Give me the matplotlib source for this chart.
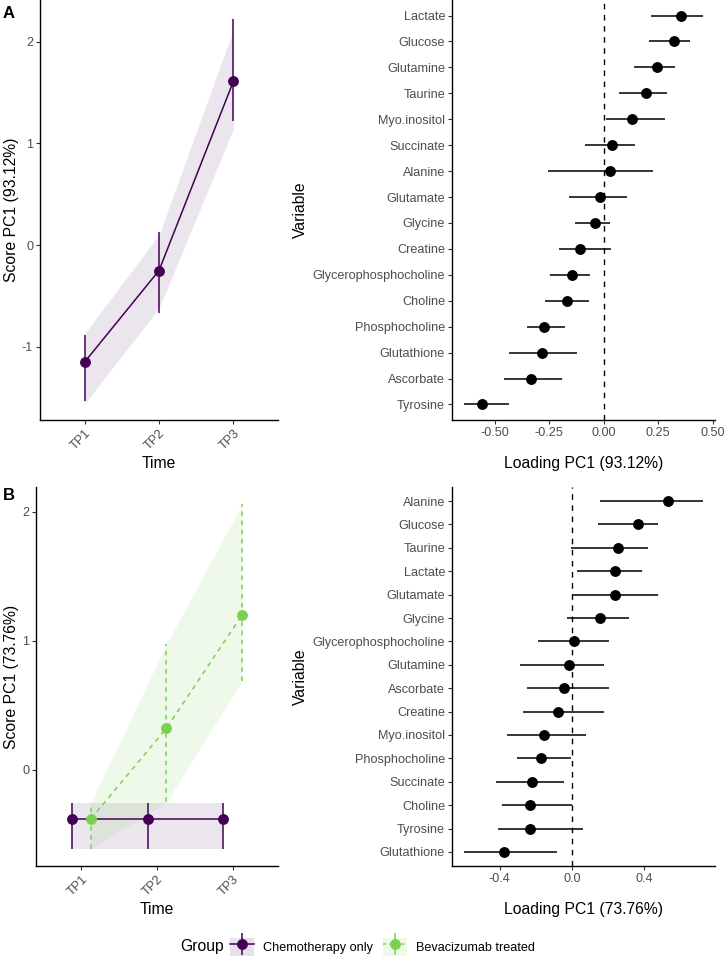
import matplotlib
matplotlib.use("Agg")
import matplotlib.pyplot as plt
from matplotlib.lines import Line2D
from matplotlib.patches import Patch
from matplotlib.legend_handler import HandlerTuple
import numpy as np

plt.rcParams['font.family'] = ['Liberation Sans', 'DejaVu Sans']
plt.rcParams['axes.unicode_minus'] = False

# ---------------- Data ----------------
timepoints = ["TP1", "TP2", "TP3"]

# Panel A scores (single group)
a_score = [-1.15, -0.25, 1.61]
a_err_lo = [-1.53, -0.67, 1.22]
a_err_hi = [-0.88, 0.13, 2.22]
a_rib_lo = [-1.56, -0.62, 1.14]
a_rib_hi = [-0.87, 0.10, 2.12]

# Panel A loadings
a_vars = ["Lactate", "Glucose", "Glutamine", "Taurine", "Myo.inositol", "Succinate",
          "Alanine", "Glutamate", "Glycine", "Creatine", "Glycerophosphocholine",
          "Choline", "Phosphocholine", "Glutathione", "Ascorbate", "Tyrosine"]
a_load = [0.356, 0.324, 0.245, 0.196, 0.131, 0.040, 0.031, -0.017, -0.040, -0.107,
          -0.148, -0.171, -0.274, -0.284, -0.332, -0.561]
a_load_lo = [0.219, 0.206, 0.138, 0.070, 0.012, -0.087, -0.254, -0.159, -0.134, -0.205,
             -0.248, -0.269, -0.353, -0.437, -0.459, -0.642]
a_load_hi = [0.456, 0.398, 0.329, 0.290, 0.283, 0.145, 0.228, 0.109, 0.029, 0.035,
             -0.064, -0.070, -0.179, -0.121, -0.194, -0.437]

# Panel B scores (two groups)
groups = ["Chemotherapy only", "Bevacizumab treated"]
b_chemo = [-0.379, -0.379, -0.379]
b_chemo_lo = [-0.611, -0.611, -0.611]
b_chemo_hi = [-0.255, -0.255, -0.255]
b_bev = [-0.379, 0.322, 1.199]
b_bev_lo = [-0.611, -0.250, 0.690]
b_bev_hi = [-0.255, 0.974, 2.057]

# Panel B loadings
b_vars = ["Alanine", "Glucose", "Taurine", "Lactate", "Glutamate", "Glycine",
          "Glycerophosphocholine", "Glutamine", "Ascorbate", "Creatine", "Myo.inositol",
          "Phosphocholine", "Succinate", "Choline", "Tyrosine", "Glutathione"]
b_load = [0.531, 0.367, 0.256, 0.240, 0.240, 0.155, 0.009, -0.017, -0.046, -0.079,
          -0.155, -0.173, -0.221, -0.232, -0.232, -0.375]
b_load_lo = [0.155, 0.142, -0.007, 0.029, 0.002, -0.028, -0.190, -0.288, -0.248, -0.269,
             -0.360, -0.304, -0.419, -0.387, -0.411, -0.598]
b_load_hi = [0.726, 0.478, 0.422, 0.389, 0.478, 0.317, 0.206, 0.179, 0.206, 0.179,
             0.076, -0.007, -0.042, 0.002, 0.062, -0.081]

# ---------------- Style ----------------
PURPLE = "#440154"
GREEN = "#7AD151"
TICK_COL = "#4D4D4D"
TICK_FS = 9.1
TITLE_FS = 11.3
W, H = 725, 958

fig = plt.figure(figsize=(W / 100, H / 100), dpi=100)


def ax_px(x0, y0, x1, y1):
    return fig.add_axes([x0 / W, 1 - y1 / H, (x1 - x0) / W, (y1 - y0) / H])


def classic(ax):
    for s in ["top", "right"]:
        ax.spines[s].set_visible(False)
    for s in ["left", "bottom"]:
        ax.spines[s].set_linewidth(1.0)
        ax.spines[s].set_color("black")
    ax.tick_params(length=3, width=0.8, color="#333333", labelcolor=TICK_COL,
                   labelsize=TICK_FS, pad=2)


def score_axes(ax, ylab):
    classic(ax)
    ax.set_xlim(0.4, 3.6)
    ax.set_xticks([1, 2, 3])
    ax.set_xticklabels(timepoints, rotation=45, ha="right", rotation_mode="anchor")
    ax.set_xlabel("Time", fontsize=TITLE_FS, labelpad=3)
    ax.set_ylabel(ylab, fontsize=TITLE_FS, labelpad=2)


def loading_axes(ax, names, vals, lo, hi, xlim, ticks, fmt, xlabel):
    classic(ax)
    n = len(names)
    ypos = np.arange(n, 0, -1)
    ax.axvline(0, color="black", linestyle=(0, (4, 4)), linewidth=1.0, zorder=1)
    ax.hlines(ypos, lo, hi, color="black", linewidth=1.1, zorder=2)
    ax.plot(vals, ypos, "o", color="black", markersize=6.8, zorder=3)
    ax.set_ylim(0.4, n + 0.6)
    ax.set_yticks(ypos)
    ax.set_yticklabels(names)
    ax.set_xlim(*xlim)
    ax.set_xticks(ticks)
    ax.set_xticklabels([fmt.format(t) for t in ticks])
    ax.set_xlabel(xlabel, fontsize=TITLE_FS, labelpad=12)
    ax.set_ylabel("Variable", fontsize=TITLE_FS, labelpad=3)


# ---------------- Panel A left ----------------
axA1 = ax_px(40, 0, 278, 420)
xA = np.array([1, 2, 3])
axA1.fill_between(xA, a_rib_lo, a_rib_hi, color=PURPLE, alpha=0.1, linewidth=0)
axA1.plot(xA, a_score, color=PURPLE, linewidth=1.1)
axA1.vlines(xA, a_err_lo, a_err_hi, color=PURPLE, linewidth=1.1)
axA1.plot(xA, a_score, "o", color=PURPLE, markersize=6.8)
axA1.set_ylim(-1.72, 2.41)
axA1.set_yticks([-1, 0, 1, 2])
score_axes(axA1, "Score PC1 (93.12%)")

# ---------------- Panel A right ----------------
axA2 = ax_px(452, 0, 715, 420)
loading_axes(axA2, a_vars, a_load, a_load_lo, a_load_hi, (-0.697, 0.511),
             [-0.5, -0.25, 0.0, 0.25, 0.5], "{:.2f}", "Loading PC1 (93.12%)")

# ---------------- Panel B left ----------------
axB1 = ax_px(36, 487, 278, 866)
dodge = 0.125
xc = xA - dodge
xb = xA + dodge
axB1.fill_between(xc, b_chemo_lo, b_chemo_hi, color=PURPLE, alpha=0.1, linewidth=0)
axB1.fill_between(xb, b_bev_lo, b_bev_hi, color=GREEN, alpha=0.12, linewidth=0)
dash = (0, (3, 3))
axB1.plot(xc, b_chemo, color=PURPLE, linewidth=1.1)
axB1.vlines(xc, b_chemo_lo, b_chemo_hi, color=PURPLE, linewidth=1.1)
axB1.plot(xb, b_bev, color=GREEN, linewidth=1.1, linestyle=dash)
axB1.vlines(xb, b_bev_lo, b_bev_hi, color=GREEN, linewidth=1.1, linestyle=dash)
axB1.plot(xc, b_chemo, "o", color=PURPLE, markersize=6.8, zorder=4)
axB1.plot(xb, b_bev, "o", color=GREEN, markersize=6.8, zorder=4)
axB1.set_ylim(-0.744, 2.19)
axB1.set_yticks([0, 1, 2])
score_axes(axB1, "Score PC1 (73.76%)")

# ---------------- Panel B right ----------------
axB2 = ax_px(452, 487, 715, 866)
loading_axes(axB2, b_vars, b_load, b_load_lo, b_load_hi, (-0.664, 0.792),
             [-0.4, 0.0, 0.4], "{:.1f}", "Loading PC1 (73.76%)")

# ---------------- Panel tags ----------------
fig.text(3 / W, 1 - 13 / H, "A", fontsize=12, fontweight="bold", va="center", ha="left")
fig.text(3 / W, 1 - 496 / H, "B", fontsize=12, fontweight="bold", va="center", ha="left")

# ---------------- Legend ----------------
def key(color, ls):
    bg = Patch(facecolor=color, alpha=0.12, edgecolor="none")
    hl = Line2D([], [], color=color, linestyle=ls, linewidth=1.1)
    vl = Line2D([], [], color=color, linestyle="none", marker="|", markersize=16,
                markeredgewidth=1.1)
    pt = Line2D([], [], color=color, linestyle="none", marker="o", markersize=6.8)
    return (bg, hl, vl, pt)

handles = [key(PURPLE, "-"), key(GREEN, (0, (2, 2)))]
fig.text(180 / W, 1 - 947 / H, "Group", fontsize=TITLE_FS, va="center", ha="left")
fig.legend(handles, groups, loc="center left", bbox_to_anchor=(230 / W, 1 - 947 / H),
           ncol=2, frameon=False, fontsize=TICK_FS, handlelength=1.9, handleheight=1.9,
           handletextpad=0.7, columnspacing=0.8, borderpad=0, borderaxespad=0,
           handler_map={tuple: HandlerTuple(ndivide=1, pad=0)})

fig.savefig("out.png", dpi=100)
